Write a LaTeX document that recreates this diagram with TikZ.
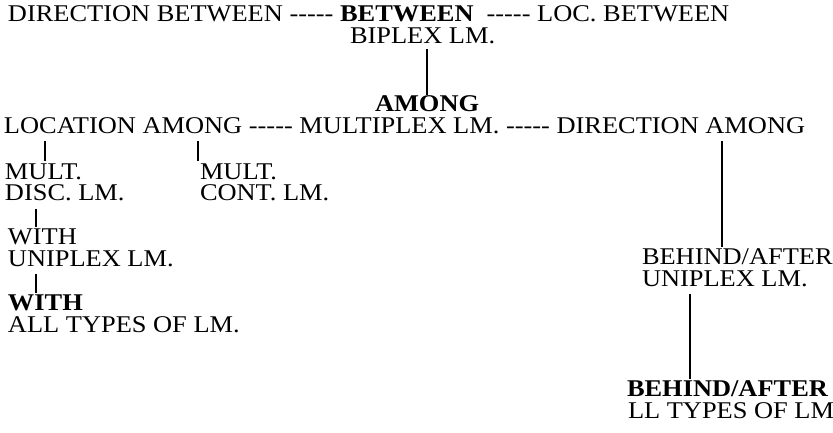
\documentclass[tikz,border=0pt]{standalone}
\usepackage{fontspec}
\setmainfont{Liberation Serif}[FakeStretch=1.1]
\newcommand{\fivedash}{-{}-{}-{}-{}-}
\begin{document}
\begin{tikzpicture}[x=1pt,y=-1pt,
  lbl/.style={anchor=base west, inner sep=0pt, outer sep=0pt, font=\fontsize{24}{28}\selectfont},
  bl/.style={lbl, font=\fontsize{24}{28}\selectfont\bfseries},
  conn/.style={draw=black, line width=1.2pt}]
\useasboundingbox (0,0) rectangle (833,432);
% line x positions
\coordinate (vA) at (427,0);
\coordinate (v1) at (45,0);
\coordinate (v2) at (198,0);
\coordinate (v3) at (722,0);
\coordinate (v4) at (36,0);
\coordinate (v5) at (690,0);
% top row
\node[lbl] (dirbet) at (8,21.5) {DIRECTION BETWEEN \fivedash};
\node[bl] (between) at ([xshift=6.6pt]dirbet.base east) {BETWEEN};
\node[lbl] (locbet) at ([xshift=13pt]between.base east) {\fivedash\ LOC. BETWEEN};
\node[lbl] (biplex) at (350,43) {BIPLEX LM.};
% among
\node[bl] (among) at (375,111.5) {AMONG};
\node[lbl] (locam) at (4,133) {LOCATION AMONG \fivedash};
\node[lbl] (multiplex) at ([xshift=6.6pt]locam.base east) {MULTIPLEX LM. \fivedash};
\node[lbl] (diram) at ([xshift=6.6pt]multiplex.base east) {DIRECTION AMONG};
% left branches
\node[lbl] (multa) at (5,179) {MULT.};
\node[lbl] (disc) at (5,200.5) {DISC. LM.};
\node[lbl] (multb) at (200,179) {MULT.};
\node[lbl] (cont) at (200,200.5) {CONT. LM.};
\node[lbl] (with) at (8,244.5) {WITH};
\node[lbl] (unia) at (8,266) {UNIPLEX LM.};
\node[bl] (withb) at (8,310.5) {WITH};
\node[lbl] (alltypes) at (8,332) {ALL TYPES OF LM.};
% right branch
\node[lbl] (behind) at (642,264.5) {BEHIND/AFTER};
\node[lbl] (unib) at (642,286) {UNIPLEX LM.};
\node[bl] (behindb) at (627,396.5) {BEHIND/AFTER};
\node[lbl] (lltypes) at (628,418) {LL TYPES OF LM};
% connectors
\draw[conn] ([yshift=-6pt]biplex.base -| vA) -- ([yshift=1pt]among.north -| vA);
\draw[conn] ([yshift=-8pt]locam.base -| v1) -- ([yshift=2pt]multa.north -| v1);
\draw[conn] ([yshift=-8pt]locam.base -| v2) -- ([yshift=2pt]multb.north -| v2);
\draw[conn] ([yshift=-8pt]disc.base -| v4) -- ([yshift=2pt]with.north -| v4);
\draw[conn] ([yshift=-8pt]unia.base -| v4) -- ([yshift=2pt]withb.north -| v4);
\draw[conn] ([yshift=-8pt]diram.base -| v3) -- ([yshift=2pt]behind.north -| v3);
\draw[conn] ([yshift=-8pt]unib.base -| v5) -- ([yshift=2pt]behindb.north -| v5);
\end{tikzpicture}
\end{document}
